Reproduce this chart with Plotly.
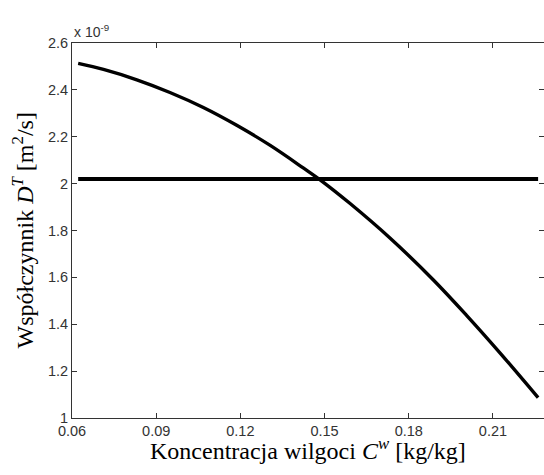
import plotly.graph_objects as go

# Data
moisture = [0.0622, 0.0712, 0.0831, 0.0949, 0.1068, 0.1187, 0.1305, 0.1424,
            0.1490, 0.1590, 0.1733, 0.1887, 0.2006, 0.2125, 0.2261]
coef_dt = [2.513e-9, 2.487e-9, 2.443e-9, 2.389e-9, 2.325e-9, 2.249e-9, 2.164e-9, 2.067e-9,
           2.011e-9, 1.916e-9, 1.768e-9, 1.590e-9, 1.438e-9, 1.278e-9, 1.087e-9]
const_x = [0.0622, 0.2261]
const_dt = [2.02e-9, 2.02e-9]

x_ticks = [0.06, 0.09, 0.12, 0.15, 0.18, 0.21]
x_ticklabels = ["0.06", "0.09", "0.12", "0.15", "0.18", "0.21"]
y_ticks = [1.0e-9, 1.2e-9, 1.4e-9, 1.6e-9, 1.8e-9, 2.0e-9, 2.2e-9, 2.4e-9, 2.6e-9]
y_ticklabels = ["1", "1.2", "1.4", "1.6", "1.8", "2", "2.2", "2.4", "2.6"]

fig = go.Figure()
fig.add_trace(go.Scatter(x=moisture, y=coef_dt, mode="lines",
                         line=dict(color="black", width=3.4, shape="spline", smoothing=1.0),
                         showlegend=False, hoverinfo="skip"))
fig.add_trace(go.Scatter(x=const_x, y=const_dt, mode="lines", line=dict(color="black", width=4),
                         showlegend=False, hoverinfo="skip"))

axis_common = dict(showgrid=False, zeroline=False, showline=True, linecolor="#333", linewidth=1,
                   mirror="ticks", ticks="inside", ticklen=5, tickcolor="#333",
                   tickfont=dict(family="Liberation Sans, Arial", size=14.5, color="#333"))

fig.update_layout(
    width=544, height=475,
    margin=dict(l=72, r=0, t=43, b=57),
    paper_bgcolor="white", plot_bgcolor="white",
    xaxis=dict(range=[0.06, 0.2282], tickvals=x_ticks, ticktext=x_ticklabels, **axis_common),
    yaxis=dict(range=[1.0e-9, 2.6e-9], tickvals=y_ticks, ticktext=y_ticklabels, **axis_common),
    annotations=[
        dict(text="x 10<sup>-9</sup>", xref="paper", yref="paper", x=0.0, y=1.0, xanchor="left",
             yanchor="bottom", yshift=1, showarrow=False,
             font=dict(family="Liberation Sans, Arial", size=14, color="#333")),
        dict(text="Koncentracja wilgoci <i>C<sup>w</sup></i> [kg/kg]", xref="paper", yref="paper",
             x=0.5, y=0, xanchor="center", yanchor="top", yshift=-14, showarrow=False,
             font=dict(family="Liberation Serif, Times New Roman", size=24, color="black")),
        dict(text="Współczynnik <i>D<sup>T</sup></i> [m<sup>2</sup>/s]", xref="paper", yref="paper",
             x=0, y=0.5, xanchor="right", yanchor="middle", xshift=-33, textangle=-90, showarrow=False,
             font=dict(family="Liberation Serif, Times New Roman", size=24, color="black")),
    ],
)

fig.write_html("out.html", config={"displayModeBar": False},
               post_script="document.body.style.margin='0';")
